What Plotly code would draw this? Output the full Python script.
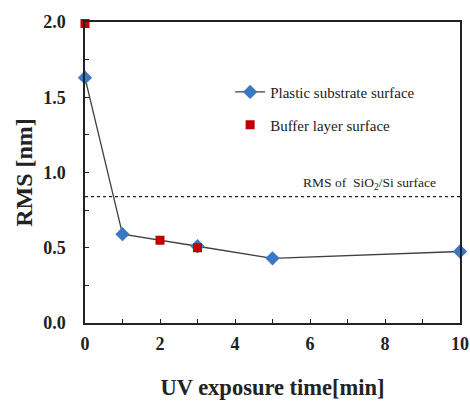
import plotly.graph_objects as go

# Data
plastic_x = [0, 1, 3, 5, 10]
plastic_rms = [1.63, 0.59, 0.51, 0.43, 0.475]
buffer_x = [0, 2, 3]
buffer_rms = [1.99, 0.55, 0.50]
sio2_rms = 0.84
x_ticks = [0, 2, 4, 6, 8, 10]
y_ticks = [0.0, 0.5, 1.0, 1.5, 2.0]

FONT = "Liberation Serif"

fig = go.Figure()
fig.add_trace(go.Scatter(
    x=plastic_x, y=plastic_rms, mode="lines+markers",
    name="Plastic substrate surface",
    line=dict(color="#404040", width=1.3),
    marker=dict(symbol="diamond", size=11, color="#3b78c4"),
    cliponaxis=False, legend="legend", showlegend=True,
))
fig.add_trace(go.Scatter(
    x=buffer_x, y=buffer_rms, mode="markers",
    name="Buffer layer surface",
    marker=dict(symbol="square", size=9, color="#c00000"),
    cliponaxis=False, legend="legend2", showlegend=True,
))
fig.add_shape(type="line", xref="paper", x0=0, x1=1, yref="y", y0=sio2_rms, y1=sio2_rms,
              line=dict(color="#222222", width=1.3, dash="dot"))
fig.add_annotation(x=0.94, xref="paper", y=sio2_rms, yref="y", yshift=13,
                   text="RMS of  SiO<sub>2</sub>/Si surface", showarrow=False,
                   xanchor="right", font=dict(family=FONT, size=13.5, color="#222"))

axis_common = dict(showline=True, linecolor="#222", linewidth=1.5, mirror=True,
                   ticks="inside", ticklen=4, tickcolor="#222", showgrid=False,
                   zeroline=False, automargin=False,
                   tickfont=dict(family=FONT, size=18, color="#222", weight="bold"))
fig.update_xaxes(range=[0, 10], tickvals=x_ticks, ticktext=[str(v) for v in x_ticks],
                 minor=dict(dtick=1, ticks="inside", ticklen=4, tickcolor="#222"),
                 ticklabelstandoff=4,
                 title=dict(text="UV exposure time[min]", standoff=26,
                            font=dict(family=FONT, size=22.5, color="#222", weight="bold")),
                 **axis_common)
fig.update_yaxes(range=[0, 2], tickvals=y_ticks, ticktext=[f"{v:.1f}" for v in y_ticks],
                 minor=dict(dtick=0.25, ticks="inside", ticklen=4, tickcolor="#222"),
                 ticklabelstandoff=14,
                 title=dict(text="RMS [nm]", standoff=4,
                            font=dict(family=FONT, size=24, color="#222", weight="bold")),
                 **axis_common)

fig.update_layout(
    width=470, height=403,
    margin=dict(l=85, r=10, t=22, b=80),
    showlegend=True,
    plot_bgcolor="white", paper_bgcolor="white",
    legend=dict(x=0.387, y=0.767, xanchor="left", yanchor="middle", bgcolor="rgba(0,0,0,0)",
                font=dict(family=FONT, size=15, color="#222"), itemwidth=30),
    legend2=dict(x=0.387, y=0.658, xanchor="left", yanchor="middle", bgcolor="rgba(0,0,0,0)",
                 font=dict(family=FONT, size=15, color="#222"), itemwidth=30),
)
fig.write_html(
    "out.html",
    config={"displayModeBar": False},
    post_script="document.body.style.margin='0';document.body.style.overflow='hidden';",
)
